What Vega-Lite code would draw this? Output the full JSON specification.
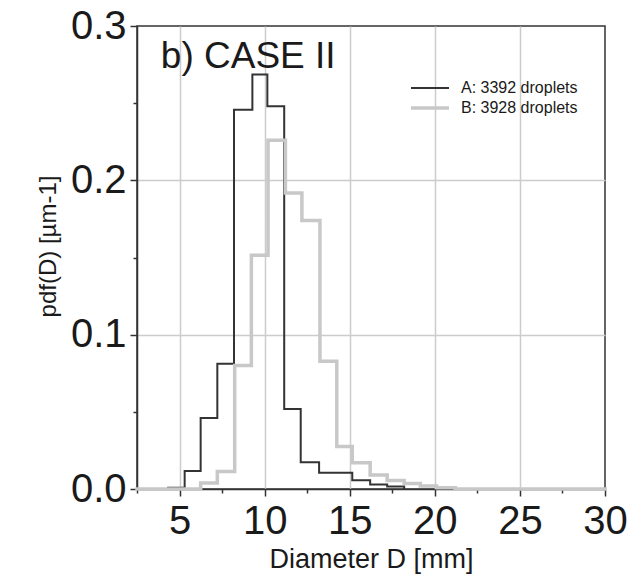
{
  "$schema": "https://vega.github.io/schema/vega-lite/v6.json",
  "width": 468,
  "height": 463,
  "autosize": {"type": "none"},
  "padding": {"left": 137, "top": 26, "right": 27, "bottom": 92},
  "background": "white",
  "config": {
    "font": "Liberation Sans",
    "view": {"stroke": "#333333", "strokeWidth": 1.5},
    "axis": {
      "domainColor": "#333333",
      "domainWidth": 1.5,
      "tickColor": "#333333",
      "tickWidth": 1.5,
      "gridColor": "#cccccc",
      "gridWidth": 1.5,
      "labelColor": "#1a1a1a",
      "titleColor": "#1a1a1a",
      "labelFont": "Liberation Sans",
      "titleFont": "Liberation Sans",
      "titleFontWeight": "normal"
    }
  },
  "datasets": {
    "hist": [
      {"series": "A: 3392 droplets", "D": 4.33, "pdf": 0.0008},
      {"series": "A: 3392 droplets", "D": 5.3, "pdf": 0.0117},
      {"series": "A: 3392 droplets", "D": 6.24, "pdf": 0.046},
      {"series": "A: 3392 droplets", "D": 7.22, "pdf": 0.0812},
      {"series": "A: 3392 droplets", "D": 8.2, "pdf": 0.2458},
      {"series": "A: 3392 droplets", "D": 9.28, "pdf": 0.2685},
      {"series": "A: 3392 droplets", "D": 10.16, "pdf": 0.248},
      {"series": "A: 3392 droplets", "D": 11.15, "pdf": 0.0518},
      {"series": "A: 3392 droplets", "D": 12.12, "pdf": 0.0173},
      {"series": "A: 3392 droplets", "D": 13.2, "pdf": 0.0106},
      {"series": "A: 3392 droplets", "D": 14.2, "pdf": 0.0106},
      {"series": "A: 3392 droplets", "D": 15.15, "pdf": 0.0056},
      {"series": "A: 3392 droplets", "D": 16.2, "pdf": 0.0029},
      {"series": "A: 3392 droplets", "D": 17.2, "pdf": 0.0017},
      {"series": "A: 3392 droplets", "D": 18.2, "pdf": 0},
      {"series": "B: 3928 droplets", "D": 2.5, "pdf": 0},
      {"series": "B: 3928 droplets", "D": 6.24, "pdf": 0.0039},
      {"series": "B: 3928 droplets", "D": 7.22, "pdf": 0.0114},
      {"series": "B: 3928 droplets", "D": 8.24, "pdf": 0.08},
      {"series": "B: 3928 droplets", "D": 9.22, "pdf": 0.1514},
      {"series": "B: 3928 droplets", "D": 10.2, "pdf": 0.226},
      {"series": "B: 3928 droplets", "D": 11.22, "pdf": 0.1918},
      {"series": "B: 3928 droplets", "D": 12.19, "pdf": 0.174},
      {"series": "B: 3928 droplets", "D": 13.25, "pdf": 0.0827},
      {"series": "B: 3928 droplets", "D": 14.24, "pdf": 0.0276},
      {"series": "B: 3928 droplets", "D": 15.15, "pdf": 0.017},
      {"series": "B: 3928 droplets", "D": 16.2, "pdf": 0.009},
      {"series": "B: 3928 droplets", "D": 17.2, "pdf": 0.0055},
      {"series": "B: 3928 droplets", "D": 18.2, "pdf": 0.0035},
      {"series": "B: 3928 droplets", "D": 19.15, "pdf": 0.002},
      {"series": "B: 3928 droplets", "D": 20.1, "pdf": 0.0008},
      {"series": "B: 3928 droplets", "D": 21.2, "pdf": 0},
      {"series": "B: 3928 droplets", "D": 30, "pdf": 0}
    ],
    "label": [
      {"D": 3.9, "pdf": 0.273, "text": "b) CASE II"}
    ]
  },
  "layer": [
    {
      "data": {"name": "hist"},
      "mark": {"type": "line", "interpolate": "step-after", "strokeCap": "square"},
      "encoding": {
        "x": {
          "field": "D",
          "type": "quantitative",
          "scale": {"domain": [2.5, 30], "nice": false, "zero": false},
          "axis": {
            "title": "Diameter D [mm]",
            "values": [2.5, 5, 7.5, 10, 12.5, 15, 17.5, 20, 22.5, 25, 27.5, 30],
            "labelExpr": "datum.value % 5 === 0 ? datum.label : ''",
            "format": "d",
            "labelFontSize": 40,
            "labelPadding": 5,
            "labelFlush": false,
            "labelOverlap": false,
            "tickSize": {"condition": {"test": "datum.value % 5 === 0", "value": 7}, "value": 4},
            "gridOpacity": {"condition": {"test": "datum.value % 5 === 0 && datum.value < 30", "value": 1}, "value": 0},
            "titleFontSize": 27,
            "titlePadding": 5
          }
        },
        "y": {
          "field": "pdf",
          "type": "quantitative",
          "scale": {"domain": [0, 0.3], "nice": false},
          "axis": {
            "title": "pdf(D) [µm-1]",
            "values": [0, 0.05, 0.1, 0.15, 0.2, 0.25, 0.3],
            "format": ".1f",
            "labelExpr": "abs(datum.value * 10 - round(datum.value * 10)) < 0.001 ? datum.label : ''",
            "labelFontSize": 40,
            "labelPadding": 4,
            "labelFlush": false,
            "labelOverlap": false,
            "tickSize": {"condition": {"test": "abs(datum.value * 10 - round(datum.value * 10)) < 0.001", "value": 7}, "value": 4},
            "gridOpacity": {"condition": {"test": "datum.value > 0.05 && datum.value < 0.25 && abs(datum.value * 10 - round(datum.value * 10)) < 0.001", "value": 1}, "value": 0},
            "titleFontSize": 24,
            "titlePadding": 10,
            "titleY": 220
          }
        },
        "color": {
          "field": "series",
          "type": "nominal",
          "scale": {"domain": ["A: 3392 droplets", "B: 3928 droplets"], "range": ["#333333", "#c8c8c8"]},
          "legend": {
            "title": null,
            "orient": "none",
            "legendX": 281.5,
            "legendY": 51.5,
            "symbolType": "M-2,0H2",
            "symbolSize": 361,
            "labelFontSize": 16,
            "labelOffset": 19.5,
            "labelColor": "#1a1a1a",
            "rowPadding": -1
          }
        },
        "strokeWidth": {
          "field": "series",
          "type": "nominal",
          "scale": {"domain": ["A: 3392 droplets", "B: 3928 droplets"], "range": [2, 3.5]},
          "legend": null
        }
      }
    },
    {
      "data": {"name": "label"},
      "mark": {"type": "text", "align": "left", "baseline": "alphabetic", "fontSize": 37, "font": "Liberation Sans", "color": "#1a1a1a"},
      "encoding": {
        "x": {"field": "D", "type": "quantitative"},
        "y": {"field": "pdf", "type": "quantitative"},
        "text": {"field": "text"}
      }
    }
  ]
}
